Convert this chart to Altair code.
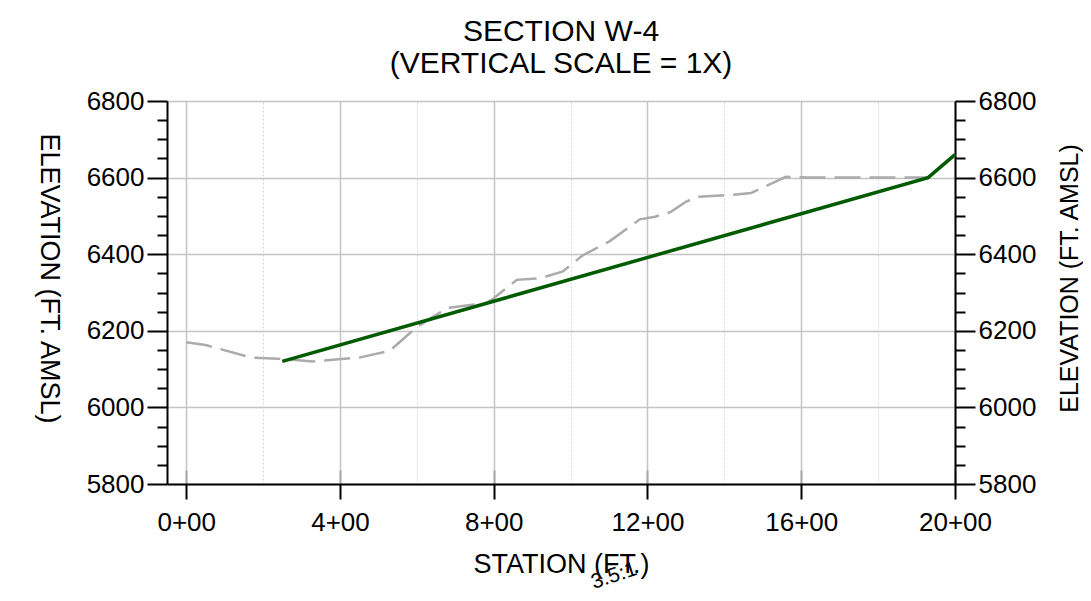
import altair as alt
import pandas as pd

FONT = "Liberation Sans"

# ---- data -------------------------------------------------------------
station_ticks = [0, 400, 800, 1200, 1600, 2000]
station_minor = [200, 600, 1000, 1400, 1800]
elev_ticks = [5800, 6000, 6200, 6400, 6600, 6800]
elev_minor = [5850, 5900, 5950, 6050, 6100, 6150, 6250, 6300, 6350,
              6450, 6500, 6550, 6650, 6700, 6750]

ground_station = [0, 50, 170, 240, 330, 450, 530, 600, 680, 780, 800, 860,
                  920, 980, 1030, 1100, 1180, 1220, 1260, 1300, 1330, 1420,
                  1470, 1560, 1620, 1930, 2000]
ground_elev = [6170, 6163, 6130, 6127, 6120, 6130, 6148, 6210, 6260, 6272,
               6285, 6333, 6337, 6355, 6396, 6433, 6491, 6498, 6510, 6537,
               6550, 6555, 6560, 6602, 6600, 6600, 6660]

design_station = [250, 1930, 2000]
design_elev = [6120, 6600, 6660]

title_lines = ["SECTION W-4", "(VERTICAL SCALE = 1X)"]
x_title = "STATION (FT.)"
y_title = "ELEVATION (FT. AMSL)"

# slope label derived from the design line (run : rise)
run = design_station[1] - design_station[0]
rise = design_elev[1] - design_elev[0]
slope_label = f"{run / rise:.1f}:1"

ground = pd.DataFrame({"station": ground_station, "elev": ground_elev})
design = pd.DataFrame({"station": design_station, "elev": design_elev})
note = pd.DataFrame({"label": [slope_label]})

W, H = 788, 383
xs = alt.Scale(domain=[-50, 2000], nice=False, zero=False)
ys = alt.Scale(domain=[5800, 6800], nice=False, zero=False)

common_label = dict(labelFont=FONT, labelFontSize=26, labelColor="black",
                    labelOverlap=False, labelFlush=False, labelBound=False)
common_title = dict(titleFont=FONT, titleFontWeight="normal", titleColor="black")

x_main = alt.Axis(orient="bottom", values=station_ticks,
                  labelExpr="format(datum.value / 100, 'd') + '+00'",
                  labelBaseline="alphabetic", labelPadding=31,
                  tickSize=15, tickColor="black", tickWidth=2,
                  domainColor="black", domainWidth=2,
                  grid=True, gridColor="#c4c4c4", gridWidth=1.5,
                  title=x_title, titleFontSize=27, titleBaseline="alphabetic",
                  titleY=88, **common_label, **common_title)

y_left = alt.Axis(orient="left", values=elev_ticks, format="d",
                  tickSize=20, tickColor="black", tickWidth=2, labelPadding=3,
                  domainColor="black", domainWidth=2,
                  grid=True, gridColor="#c4c4c4", gridWidth=1.5,
                  title=y_title, titleFontSize=27, titleAngle=90,
                  titleAlign="center", titleBaseline="middle",
                  titleX=-119, titleY=177, **common_label, **common_title)

y_right = alt.Axis(orient="right", values=elev_ticks, format="d",
                   tickSize=20, tickColor="black", tickWidth=2, labelPadding=3,
                   domainColor="black", domainWidth=2, grid=False,
                   title=y_title, titleFontSize=25, titleAngle=270,
                   titleAlign="center", titleBaseline="middle",
                   titleX=114, titleY=177, **common_label, **common_title)

x_minor_grid = alt.Axis(orient="top", values=station_minor, grid=True,
                        gridColor="#d6d6d6", gridWidth=1, gridDash=[2, 2],
                        ticks=False, labels=False, domain=False, title=None)

x_inner_ticks = alt.Axis(orient="top", offset=-H, values=station_ticks,
                         grid=False, ticks=True, tickSize=14, tickColor="#a8a8a8",
                         tickWidth=2, labels=False, domain=False, title=None)

y_left_minor = alt.Axis(orient="left", values=elev_minor, grid=False,
                        tickSize=10, tickColor="black", tickWidth=2,
                        labels=False, domain=False, title=None)
y_right_minor = alt.Axis(orient="right", values=elev_minor, grid=False,
                         tickSize=10, tickColor="black", tickWidth=2,
                         labels=False, domain=False, title=None)

ground_layer = alt.Chart(ground).mark_line(
    color="#ababab", strokeWidth=2.5, strokeDash=[26, 9]
).encode(
    x=alt.X("station:Q", scale=xs, axis=x_main),
    y=alt.Y("elev:Q", scale=ys, axis=y_left),
)

design_layer = alt.Chart(design).mark_line(
    color="#005a00", strokeWidth=3.5
).encode(
    x=alt.X("station:Q", scale=xs, axis=None),
    y=alt.Y("elev:Q", scale=ys, axis=y_right),
)

minor_a = alt.Chart(ground).mark_point(opacity=0).encode(
    x=alt.X("station:Q", scale=xs, axis=x_minor_grid),
    y=alt.Y("elev:Q", scale=ys, axis=y_left_minor),
)
minor_b = alt.Chart(ground).mark_point(opacity=0).encode(
    x=alt.X("station:Q", scale=xs, axis=x_inner_ticks),
    y=alt.Y("elev:Q", scale=ys, axis=y_right_minor),
)

slope_text = alt.Chart(note).mark_text(
    font=FONT, fontSize=21, color="black", angle=342,
    align="center", baseline="middle"
).encode(
    text="label:N",
    x=alt.value(447),
    y=alt.value(475),
)

chart = alt.layer(
    minor_a, minor_b, ground_layer, design_layer, slope_text
).resolve_axis(x="independent", y="independent").properties(
    width=W, height=H,
    title=alt.TitleParams(title_lines, font=FONT, fontSize=30,
                          fontWeight="normal", color="black",
                          anchor="middle", lineHeight=32, offset=9),
    autosize=alt.AutoSizeParams(type="none"),
    padding={"left": 159, "top": 93, "right": 128, "bottom": 109},
).configure_view(stroke="black", strokeWidth=2).configure(background="white")

chart.save("out.html", embed_options={"renderer": "svg", "actions": False})
